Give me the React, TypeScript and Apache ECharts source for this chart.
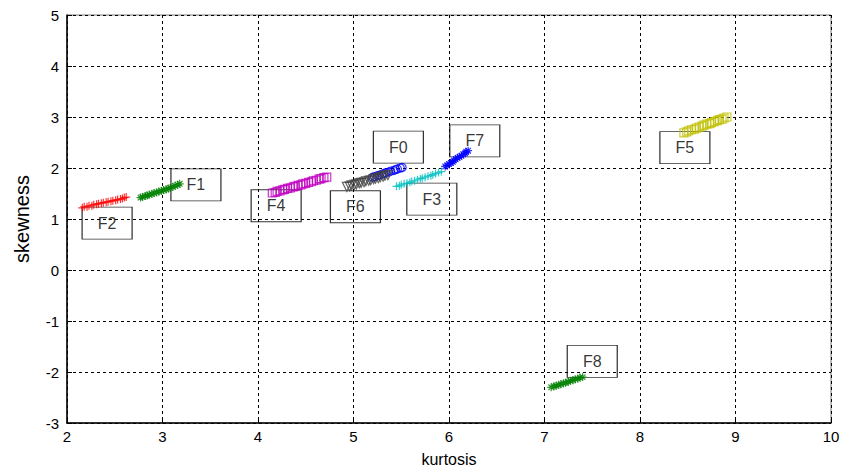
import React, { useEffect, useRef } from "react";
import * as echarts from "echarts";

const X_TICKS = [2, 3, 4, 5, 6, 7, 8, 9, 10];
const Y_TICKS = [-3, -2, -1, 0, 1, 2, 3, 4, 5];

const F0 = [[5.20,1.82],[5.22,1.83],[5.25,1.85],[5.27,1.86],[5.30,1.88],[5.32,1.89],[5.34,1.91],[5.37,1.92],[5.39,1.94],[5.42,1.95],[5.44,1.97],[5.46,1.98],[5.49,2.00],[5.51,2.01]];
const F1 = [[2.77,1.42],[2.79,1.43],[2.82,1.45],[2.84,1.46],[2.86,1.48],[2.89,1.49],[2.91,1.51],[2.94,1.52],[2.96,1.54],[2.99,1.55],[3.01,1.57],[3.04,1.58],[3.06,1.60],[3.08,1.61],[3.11,1.63],[3.13,1.65],[3.16,1.67],[3.18,1.69]];
const F2 = [[2.16,1.22],[2.18,1.24],[2.21,1.24],[2.23,1.26],[2.26,1.26],[2.28,1.28],[2.31,1.29],[2.33,1.30],[2.36,1.31],[2.38,1.32],[2.41,1.33],[2.43,1.34],[2.46,1.35],[2.48,1.36],[2.51,1.37],[2.53,1.38],[2.56,1.39],[2.58,1.40],[2.60,1.42],[2.62,1.43]];
const F3 = [[5.45,1.64],[5.48,1.65],[5.50,1.67],[5.53,1.69],[5.56,1.70],[5.59,1.72],[5.61,1.74],[5.64,1.75],[5.67,1.77],[5.70,1.79],[5.72,1.80],[5.75,1.82],[5.78,1.84],[5.81,1.85],[5.83,1.87],[5.86,1.89],[5.89,1.91],[5.92,1.93]];
const F4 = [[4.15,1.51],[4.18,1.52],[4.20,1.54],[4.23,1.55],[4.26,1.57],[4.28,1.58],[4.31,1.60],[4.34,1.61],[4.37,1.63],[4.39,1.64],[4.42,1.66],[4.45,1.67],[4.47,1.69],[4.50,1.70],[4.53,1.72],[4.56,1.73],[4.58,1.75],[4.61,1.76],[4.64,1.78],[4.66,1.79],[4.69,1.81],[4.72,1.82]];
const F5 = [[8.46,2.69],[8.49,2.71],[8.51,2.73],[8.54,2.75],[8.57,2.76],[8.59,2.78],[8.62,2.80],[8.65,2.82],[8.67,2.84],[8.70,2.86],[8.73,2.87],[8.75,2.89],[8.78,2.91],[8.81,2.93],[8.83,2.95],[8.86,2.96],[8.88,2.98],[8.91,3.00]];
const F6 = [[4.93,1.63],[4.96,1.64],[4.98,1.66],[5.01,1.67],[5.03,1.68],[5.06,1.70],[5.08,1.71],[5.11,1.72],[5.13,1.74],[5.16,1.75],[5.18,1.76],[5.21,1.78],[5.23,1.79],[5.26,1.80],[5.28,1.82],[5.31,1.83],[5.33,1.85],[5.36,1.86]];
const F7 = [[5.96,2.03],[5.98,2.05],[6.00,2.08],[6.02,2.10],[6.04,2.12],[6.05,2.15],[6.07,2.17],[6.09,2.20],[6.11,2.22],[6.13,2.24],[6.15,2.27],[6.17,2.29],[6.18,2.32],[6.20,2.34]];
const F8 = [[7.07,-2.30],[7.10,-2.28],[7.12,-2.27],[7.15,-2.25],[7.17,-2.24],[7.20,-2.22],[7.22,-2.21],[7.25,-2.19],[7.27,-2.17],[7.30,-2.16],[7.32,-2.14],[7.35,-2.13],[7.37,-2.11],[7.40,-2.10]];

const LABEL_NAMES = ["F0", "F1", "F2", "F3", "F4", "F5", "F6", "F7", "F8"];
const LABEL_POS = [[5.47,2.41],[3.35,1.67],[2.42,0.92],[5.82,1.39],[4.19,1.26],[8.47,2.40],[5.02,1.24],[6.27,2.53],[7.50,-1.79]];

const PLUS = "path://M5,0L5,10M0,5L10,5";
const STAR = "path://M5,0L5,10M0,5L10,5M1.5,1.5L8.5,8.5M8.5,1.5L1.5,8.5";
const TRI_DOWN = "path://M0,0L10,0L5,9Z";

function markerSeries(name: string, data: number[][], symbol: string, color: string, size: number) {
  return {
    type: "scatter",
    name,
    data,
    symbol,
    symbolSize: size,
    z: 3,
    itemStyle: { color: "rgba(0,0,0,0)", borderColor: color, borderWidth: 1.2 },
    emphasis: { disabled: true },
  };
}

export default function App() {
  const ref = useRef<HTMLDivElement>(null);
  useEffect(() => {
    if (!ref.current) return;
    const chart = echarts.init(ref.current, undefined, { renderer: "svg" });
    const font = "Liberation Sans, Arial, Helvetica, sans-serif";
    chart.setOption({
      animation: false,
      backgroundColor: "#ffffff",
      grid: { left: 67, right: 20, top: 15, bottom: 48, show: true, borderColor: "#777", borderWidth: 1, backgroundColor: "transparent" },
      xAxis: {
        type: "value",
        min: X_TICKS[0],
        max: X_TICKS[X_TICKS.length - 1],
        interval: 1,
        name: "kurtosis",
        nameLocation: "middle",
        nameGap: 28,
        nameTextStyle: { fontSize: 16, color: "#000", fontFamily: font },
        axisLine: { show: true, onZero: false, lineStyle: { color: "#000", width: 1.5 } },
        axisTick: { show: true, inside: true, length: 5, lineStyle: { color: "#000" } },
        axisLabel: { fontSize: 15, color: "#000", fontFamily: font, margin: 6 },
        splitLine: { show: true, lineStyle: { color: "#000", type: [3, 3], width: 1 } },
      },
      yAxis: {
        type: "value",
        min: Y_TICKS[0],
        max: Y_TICKS[Y_TICKS.length - 1],
        interval: 1,
        name: "skewness",
        nameLocation: "middle",
        nameGap: 35,
        nameTextStyle: { fontSize: 20, color: "#000", fontFamily: font },
        axisLine: { show: true, onZero: false, lineStyle: { color: "#000", width: 1.5 } },
        axisTick: { show: true, inside: true, length: 5, lineStyle: { color: "#000" } },
        axisLabel: { fontSize: 15, color: "#000", fontFamily: font, margin: 8 },
        splitLine: { show: true, lineStyle: { color: "#000", type: [3, 3], width: 1 } },
      },
      series: [
        {
          type: "scatter",
          name: "labels",
          data: LABEL_NAMES.map((n, i) => ({ name: n, value: LABEL_POS[i] })),
          symbol: "rect",
          symbolSize: [50, 32],
          z: 2,
          itemStyle: { color: "rgba(0,0,0,0)", borderColor: "#000", borderWidth: 1 },
          label: { show: true, position: "inside", formatter: "{b}", fontSize: 16, color: "#000", fontFamily: font },
          emphasis: { disabled: true },
        },
        markerSeries("F2", F2, PLUS, "#ff0000", 8),
        markerSeries("F1", F1, STAR, "#008000", 8),
        markerSeries("F4", F4, "rect", "#bf00bf", 8),
        markerSeries("F0", F0, "circle", "#0000ff", 8),
        markerSeries("F6", F6, TRI_DOWN, "#404040", 9),
        markerSeries("F3", F3, PLUS, "#00bfbf", 8),
        markerSeries("F7", F7, STAR, "#0000ff", 8),
        markerSeries("F5", F5, "rect", "#bfbf00", 8),
        markerSeries("F8", F8, STAR, "#008000", 8),
      ],
    });
    return () => chart.dispose();
  }, []);
  return <div ref={ref} style={{ position: "fixed", left: 0, top: 0, width: 851, height: 472 }} />;
}
